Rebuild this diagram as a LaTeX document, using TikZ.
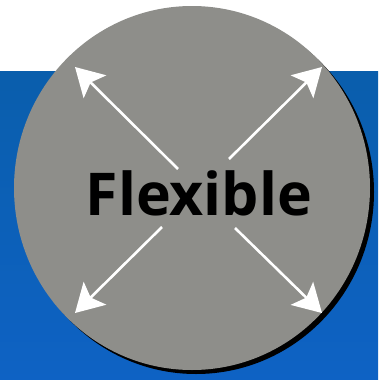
\documentclass[tikz,border=0pt]{standalone}
\usepackage{fontspec}
\newfontfamily\flexfont{Open Sans}
\usetikzlibrary{arrows.meta, positioning, calc}
\definecolor{bandblue}{HTML}{0A5EAC}
\definecolor{bandblue2}{HTML}{0E62C4}
\definecolor{discgray}{HTML}{8E8E8A}

\tikzset{
  outarrow/.style={draw=white, line width=2.6pt, -{Stealth[length=28pt, width=32pt, inset=6pt]}}
}

\begin{document}
\begin{tikzpicture}[x=1pt, y=-1pt]
          \useasboundingbox (0,0) rectangle (378,380);
          \shade[top color=bandblue, bottom color=bandblue2] (0,71) rectangle (378,380);
          \fill[black] (196,192) ellipse (178 and 182);
          \fill[discgray] (192,188) ellipse (178 and 182);
          \node[font=\flexfont\bfseries\fontsize{59}{59}\selectfont, black, anchor=base] (word) at (199,215) {Flexible};
          % arrow ends
          \coordinate (nwfrom) at (178,169);
          \coordinate (nefrom) at (229,159);
          \coordinate (swfrom) at (162,227);
          \coordinate (sefrom) at (235,228);
          \coordinate (nwto) at (75,67);
          \coordinate (neto) at (322,67);
          \coordinate (swto) at (75,313);
          \coordinate (seto) at (322,313);
          \draw[outarrow] (nwfrom) -- (nwto);
          \draw[outarrow] (nefrom) -- (neto);
          \draw[outarrow] (swfrom) -- (swto);
          \draw[outarrow] (sefrom) -- (seto);
        \end{tikzpicture}
\end{document}
